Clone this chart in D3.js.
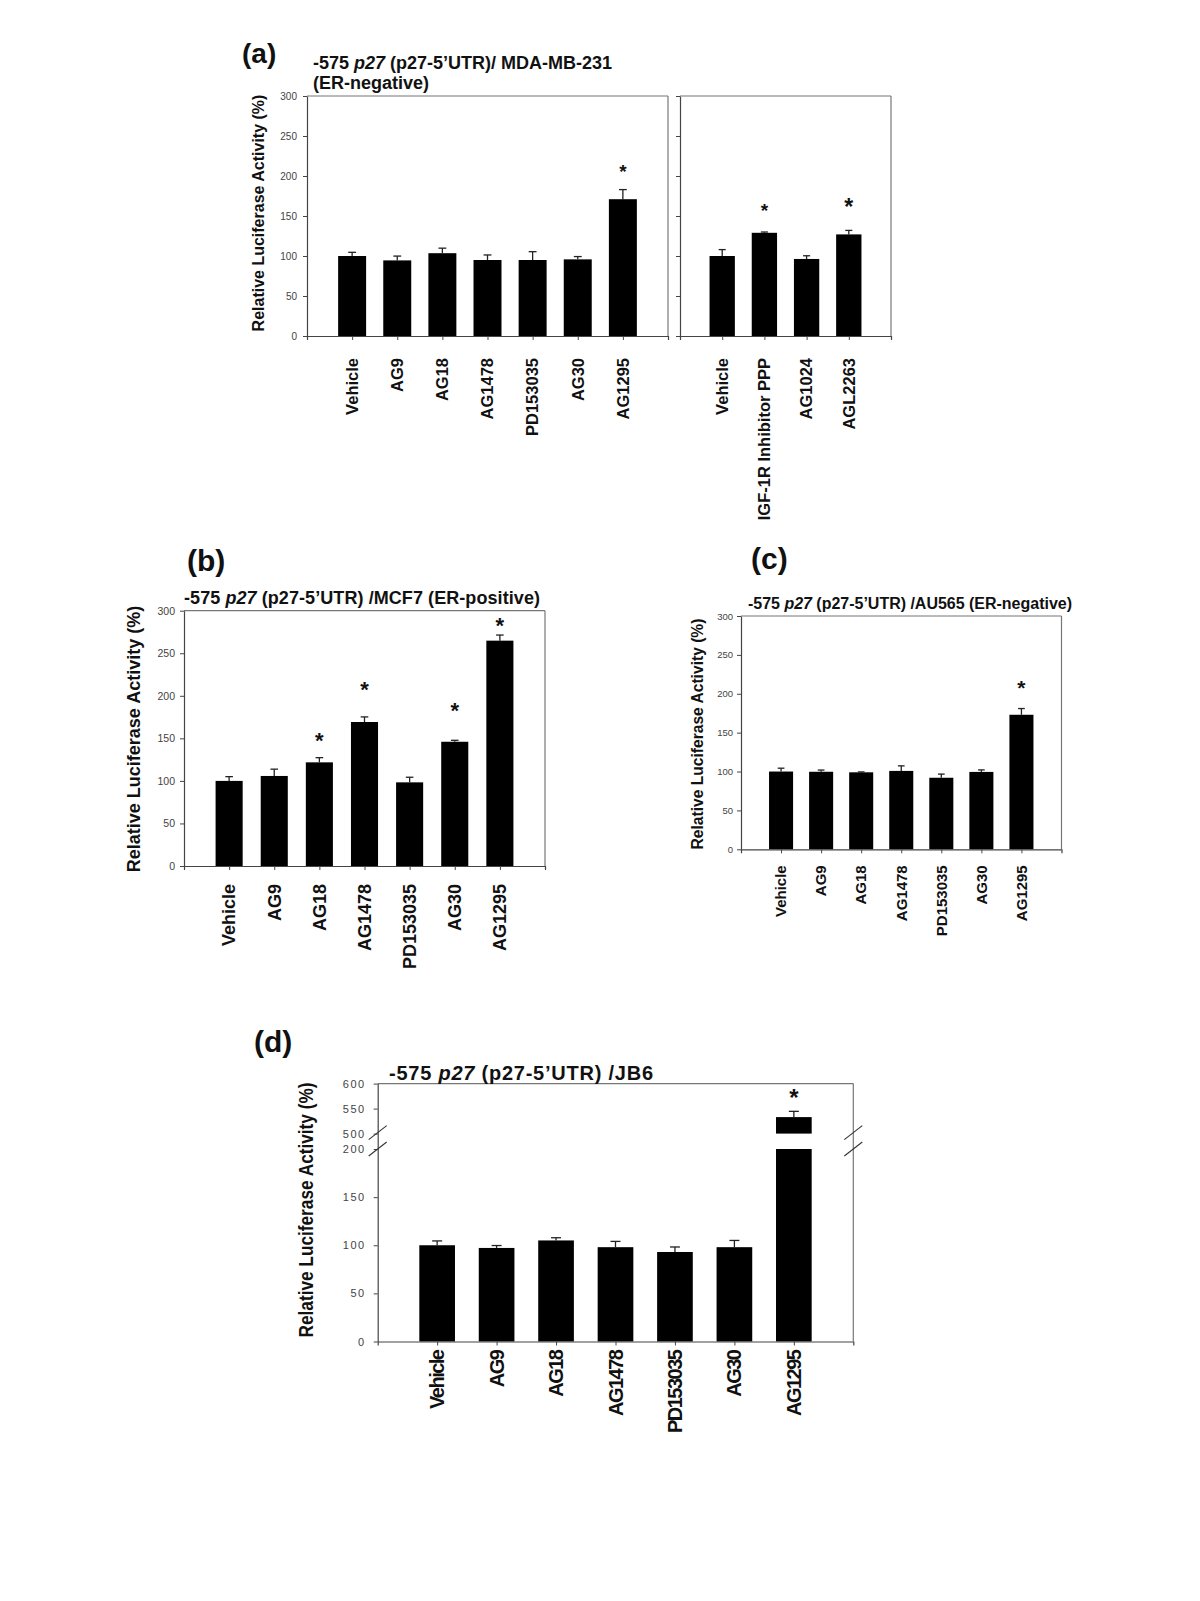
<!DOCTYPE html>
<html><head><meta charset="utf-8">
<script src="https://cdn.jsdelivr.net/npm/d3@7"></script>
<style>
body{margin:0;background:#fff}
svg{display:block}
text{font-family:"Liberation Sans",Arial,Helvetica,sans-serif}
</style>
</head><body>
<svg id="c" width="1200" height="1601"></svg>
<script>
// ---------------- DATA ----------------
const catsMain = ["Vehicle","AG9","AG18","AG1478","PD153035","AG30","AG1295"];
const catsIGF  = ["Vehicle","IGF-1R Inhibitor PPP","AG1024","AGL2263"];

const valsA1  = [100, 94.5, 103.5, 95, 95, 95.8, 171];
const errsA1  = [4.6, 5.4, 6.3, 6.3, 10.4, 3.5, 12];
const starsA1 = [null, null, null, null, null, null, 208];

const valsA2  = [100, 129, 96.3, 127];
const errsA2  = [8, 1, 4, 5];
const starsA2 = [null, 160, null, 164];

const valsB  = [100, 105.8, 121.8, 169.2, 98.3, 146, 264.8];
const errsB  = [5, 8, 5.5, 6, 6, 1.7, 6.6];
const starsB = [null, null, 150, 210, null, 185.5, 285];

const valsC  = [100, 99.7, 99, 100.8, 92, 99.5, 173];
const errsC  = [4.3, 2.2, 0.5, 6.5, 4.7, 2.6, 8];
const starsC = [null, null, null, null, null, null, 211];

const valsD  = [100, 97.2, 105, 98, 93, 98, 533];
const errsD  = [4.5, 2.5, 2.8, 6, 5.2, 7, 11.5];
const starsD = [null, null, null, null, null, null, 577];

const ticksStd = [0, 50, 100, 150, 200, 250, 300];
const ticksD   = [0, 50, 100, 150, 200, 500, 550, 600];
const breakD   = [200, 500];

const yTitle = "Relative Luciferase Activity (%)";
// -------------------------------------

const svg = d3.select("#c");

function drawPanel(p) {
  const g = svg.append("g");
  const x = d3.scalePoint().domain(p.cats).range([p.x0, p.x1]).padding(1);
  const y = p.y;
  const yTop = y(p.yMax), yBot = y(0);
  const bw = x.step() * p.barFrac;

  g.append("line").attr("x1", p.x0).attr("x2", p.x1).attr("y1", yTop).attr("y2", yTop)
    .attr("stroke", "#777").attr("stroke-width", 1.2);
  g.append("line").attr("x1", p.x1).attr("x2", p.x1).attr("y1", yTop).attr("y2", yBot)
    .attr("stroke", "#777").attr("stroke-width", 1.2);

  p.vals.forEach((v, i) => {
    const cx = x(p.cats[i]);
    const segs = (p.brk && v > p.brk[0]) ? [[0, p.brk[0]], [p.brk[1], v]] : [[0, v]];
    segs.forEach(s => {
      g.append("rect").attr("x", cx - bw / 2).attr("width", bw)
        .attr("y", y(s[1])).attr("height", y(s[0]) - y(s[1]))
        .attr("fill", "#000");
    });
    const e = p.errs[i];
    const cw = bw * 0.28;
    g.append("line").attr("x1", cx).attr("x2", cx).attr("y1", y(v)).attr("y2", y(v + e))
      .attr("stroke", "#222").attr("stroke-width", 1.3);
    g.append("line").attr("x1", cx - cw / 2).attr("x2", cx + cw / 2).attr("y1", y(v + e)).attr("y2", y(v + e))
      .attr("stroke", "#222").attr("stroke-width", 1.3);
    if (p.stars[i] != null) {
      g.append("text").attr("x", cx).attr("y", y(p.stars[i]) + 0.45 * p.starSize[i])
        .attr("text-anchor", "middle").attr("font-weight", "bold")
        .attr("font-size", p.starSize[i]).attr("fill", "#111").text("*");
    }
  });

  const ya = d3.axisLeft(y).tickValues(p.yTicks).tickSize(4).tickSizeOuter(0).tickPadding(p.tickPad);
  if (!p.yLabels) ya.tickFormat("");
  const yg = g.append("g").attr("transform", `translate(${p.x0},0)`).call(ya);
  yg.select(".domain").attr("stroke", "#444").attr("stroke-width", 1.2);
  yg.selectAll(".tick line").attr("stroke", "#444");
  yg.selectAll(".tick text").attr("font-family", '"Liberation Sans",Arial,sans-serif')
    .attr("font-size", p.yFont).attr("fill", "#444")
    .style("letter-spacing", p.yLetter || "0px");

  const xa = d3.axisBottom(x).tickSize(4).tickSizeOuter(4).tickFormat("");
  const xg = g.append("g").attr("transform", `translate(0,${yBot})`).call(xa);
  xg.select(".domain").attr("stroke", "#444").attr("stroke-width", 1.2);
  xg.selectAll(".tick line").attr("stroke", "#444");

  p.cats.forEach(c => {
    g.append("text")
      .attr("transform", `translate(${x(c)},${yBot + p.labGap}) rotate(-90)`)
      .attr("text-anchor", "end").attr("dy", "0.35em")
      .attr("font-weight", "bold").attr("font-size", p.xFont).attr("fill", "#111")
      .style("letter-spacing", p.xLetter || "0px")
      .text(c);
  });

  if (p.brk) {
    [p.x0, p.x1].forEach(bx => {
      [y(p.brk[1]) - 1, y(p.brk[0])].forEach(by => {
        g.append("line").attr("x1", bx - 9).attr("y1", by + 7).attr("x2", bx + 9).attr("y2", by - 7)
          .attr("stroke", "#333").attr("stroke-width", 1.1);
      });
    });
  }
  return g;
}

function yAxisTitle(cx, cy, fs, len) {
  const t = svg.append("text")
    .attr("transform", `translate(${cx},${cy}) rotate(-90)`)
    .attr("text-anchor", "middle").attr("dy", "0.35em")
    .attr("font-weight", "bold").attr("font-size", fs).attr("fill", "#111")
    .text(yTitle);
  if (len) t.attr("textLength", len).attr("lengthAdjust", "spacingAndGlyphs");
}

function title(xp, yp, fs, parts, len) {
  const t = svg.append("text").attr("x", xp).attr("y", yp)
    .attr("font-weight", "bold").attr("font-size", fs).attr("fill", "#111");
  parts.forEach(pt => {
    const s = t.append("tspan").text(pt[0]);
    if (pt[1]) s.attr("font-style", "italic");
  });
  if (len) t.attr("textLength", len).attr("lengthAdjust", "spacing");
}

function panelLetter(xp, yp, fs, s) {
  svg.append("text").attr("x", xp).attr("y", yp).attr("font-weight", "bold")
    .attr("font-size", fs).attr("fill", "#111").text(s);
}

// ---------- Panel (a) ----------
const yA = d3.scaleLinear().domain([0, 300]).range([336, 96]);
drawPanel({cats: catsMain, vals: valsA1, errs: errsA1, stars: starsA1, starSize: [0,0,0,0,0,0,19],
  x0: 307, x1: 668, y: yA, yMax: 300, yTicks: ticksStd, yLabels: true, tickPad: 6, yFont: 10,
  barFrac: 0.62, xFont: 16.5, labGap: 22});
drawPanel({cats: catsIGF, vals: valsA2, errs: errsA2, stars: starsA2, starSize: [0,19,0,23],
  x0: 680, x1: 891, y: yA, yMax: 300, yTicks: ticksStd, yLabels: false, tickPad: 6, yFont: 10,
  barFrac: 0.6, xFont: 16.5, labGap: 22});
panelLetter(242, 63, 28, "(a)");
title(313, 69, 18, [["-575 "], ["p27", true], [" (p27-5\u2019UTR)/ MDA-MB-231"]]);
title(313, 89, 18, [["(ER-negative)"]]);
yAxisTitle(258, 213, 16);

// ---------- Panel (b) ----------
const yB = d3.scaleLinear().domain([0, 300]).range([866, 610.7]);
drawPanel({cats: catsMain, vals: valsB, errs: errsB, stars: starsB, starSize: [0,0,22,22,0,22,22],
  x0: 184, x1: 545, y: yB, yMax: 300, yTicks: ticksStd, yLabels: true, tickPad: 5, yFont: 10.5,
  barFrac: 0.6, xFont: 18, labGap: 18});
panelLetter(187, 571, 30, "(b)");
title(184, 604, 18, [["-575 "], ["p27", true], [" (p27-5\u2019UTR) /MCF7 (ER-positive)"]], 356);
yAxisTitle(134, 739, 18);

// ---------- Panel (c) ----------
const yC = d3.scaleLinear().domain([0, 300]).range([849.3, 616]);
drawPanel({cats: catsMain, vals: valsC, errs: errsC, stars: starsC, starSize: [0,0,0,0,0,0,21],
  x0: 741, x1: 1061.5, y: yC, yMax: 300, yTicks: ticksStd, yLabels: true, tickPad: 4, yFont: 9.5,
  barFrac: 0.6, xFont: 15, labGap: 16});
panelLetter(751, 569, 30, "(c)");
title(748, 609, 16, [["-575 "], ["p27", true], [" (p27-5\u2019UTR) /AU565 (ER-negative)"]], 324);
yAxisTitle(698, 734, 15.6);

// ---------- Panel (d) ----------
const yD = d3.scaleLinear().domain([0, 200, 500, 600]).range([1341.5, 1149, 1133.6, 1083.6]);
drawPanel({cats: catsMain, vals: valsD, errs: errsD, stars: starsD, starSize: [0,0,0,0,0,0,24],
  x0: 377.7, x1: 853.3, y: yD, yMax: 600, yTicks: ticksD, yLabels: true, tickPad: 8, yFont: 11,
  yLetter: "1.5px", barFrac: 0.6, xFont: 20, xLetter: "-1.5px", labGap: 9, brk: breakD});
panelLetter(254, 1052, 30, "(d)");
title(389, 1080, 20, [["-575 "], ["p27", true], [" (p27-5\u2019UTR) /JB6"]], 264);
yAxisTitle(306, 1210, 21, 255);
</script>
</body></html>
